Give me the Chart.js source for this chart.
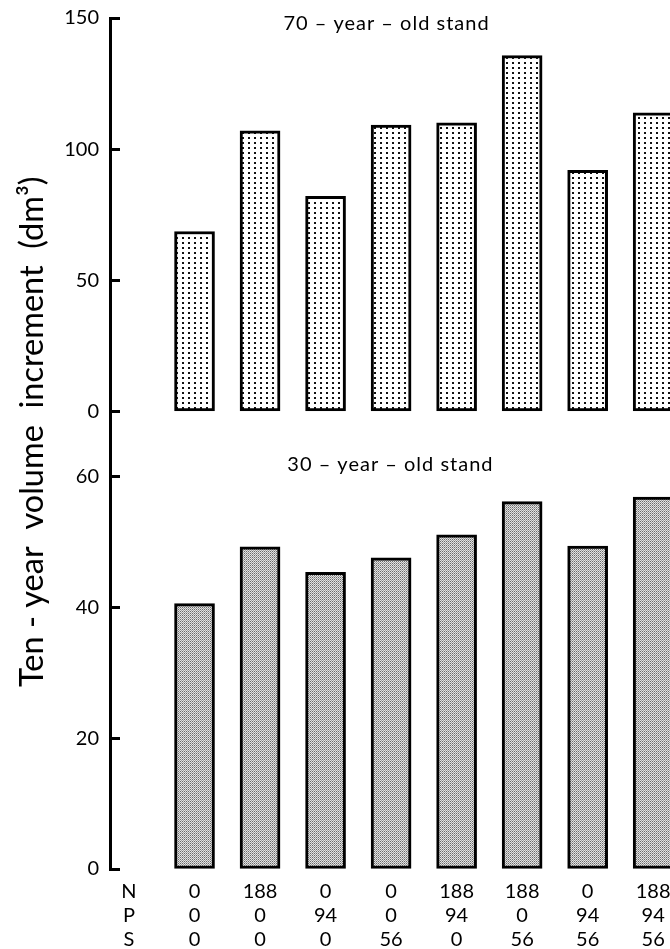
<!DOCTYPE html>
<html>
<head>
<meta charset="utf-8">
<script src="https://cdn.jsdelivr.net/npm/chart.js@4.4.1/dist/chart.umd.min.js"></script>
<style>
  html, body { margin: 0; padding: 0; background: #fff; overflow: hidden; width: 670px; height: 949px; }
  #wrap { position: absolute; left: 0; top: -15px; width: 720px; height: 964px; }
  canvas { display: block; }
</style>
</head>
<body>
<div id="wrap"><canvas id="c" width="720" height="964"></canvas></div>
<script>
// ---- data ----
const treatments = [1, 2, 3, 4, 5, 6, 7, 8];
const nLabels = ['0', '188', '0', '0', '188', '188', '0', '188'];
const pLabels = ['0', '0', '94', '0', '94', '0', '94', '94'];
const sLabels = ['0', '0', '0', '56', '0', '56', '56', '56'];
const rowHeaders = ['N', 'P', 'S'];
const increment70 = [68.6, 107.0, 82.0, 109.2, 110.0, 135.7, 91.9, 113.8];
const increment30 = [40.6, 49.3, 45.4, 47.6, 51.1, 56.2, 49.4, 56.9];
const ticks70 = [0, 50, 100, 150];
const ticks30 = [0, 20, 40, 60];
const panelTitles = ['70 – year – old stand', '30 – year – old stand'];
const yTitle = 'Ten - year  volume  increment  (dm³)';

const FONT = 'Lato, "Noto Sans", sans-serif';

function makePattern(w, h, draw) {
  const c = document.createElement('canvas');
  c.width = w; c.height = h;
  const g = c.getContext('2d');
  draw(g);
  return document.getElementById('c').getContext('2d').createPattern(c, 'repeat');
}
const dotPattern = makePattern(6, 5, g => {
  g.fillStyle = '#ffffff'; g.fillRect(0, 0, 6, 5);
  g.fillStyle = '#111111'; g.fillRect(2, 2, 2, 2);
});
const greyPattern = makePattern(2, 2, g => {
  g.fillStyle = '#e2e2e2'; g.fillRect(0, 0, 2, 2);
  g.fillStyle = '#6a6a6a'; g.fillRect(0, 0, 1, 1);
  g.fillStyle = '#a0a0a0'; g.fillRect(1, 1, 1, 1);
});

const yAxisBase = (tickValues) => ({
  type: 'linear',
  position: 'left',
  stack: 'panels',
  min: 0,
  afterBuildTicks: s => { s.ticks = tickValues.map(v => ({ value: v })); },
  afterFit: s => { s.width = 110; },
  border: { display: true, color: '#000', width: 3 },
  grid: { display: true, drawOnChartArea: false, drawTicks: true, tickLength: -10, tickWidth: 3, tickColor: '#000' },
  ticks: { color: '#000', padding: 21, font: { family: FONT, size: 20 } }
});

const labelsPlugin = {
  id: 'labelsPlugin',
  afterDraw(chart) {
    const ctx = chart.ctx;
    const x = chart.scales.x;
    const top = chart.scales.yTop;
    ctx.save();
    ctx.fillStyle = '#000';
    ctx.textAlign = 'center';
    ctx.textBaseline = 'middle';
    ctx.font = '20px ' + FONT;
    ctx.letterSpacing = '1px';
    ctx.fillText(panelTitles[0], x.getPixelForValue(3.93), top.getPixelForValue(147.8));
    ctx.fillText(panelTitles[1], x.getPixelForValue(3.99), chart.scales.yBottom.getPixelForValue(61.8));
    // axis title, centred on the same point relative to the plot as in the figure
    ctx.translate(33, top.getPixelForValue(0) + 20.3);
    ctx.rotate(-Math.PI / 2);
    ctx.font = '32.5px ' + FONT;
    ctx.letterSpacing = '0px';
    ctx.fillText(yTitle, 0, 0);
    ctx.restore();
  }
};

new Chart(document.getElementById('c'), {
  type: 'bar',
  data: {
    datasets: [
      {
        label: '70-year-old stand',
        data: treatments.map((t, i) => ({ x: t, y: increment70[i] })),
        yAxisID: 'yTop',
        backgroundColor: dotPattern,
        borderColor: '#000',
        borderWidth: 3,
        borderSkipped: false
      },
      {
        label: '30-year-old stand',
        data: treatments.map((t, i) => ({ x: t, y: increment30[i] })),
        yAxisID: 'yBottom',
        backgroundColor: greyPattern,
        borderColor: '#000',
        borderWidth: 3,
        borderSkipped: false
      }
    ]
  },
  options: {
    responsive: false,
    devicePixelRatio: 1,
    animation: false,
    events: [],
    layout: { padding: { top: 4, left: 0, right: 0, bottom: 0 } },
    datasets: { bar: { grouped: false, barThickness: 40 } },
    plugins: { legend: { display: false }, tooltip: { enabled: false }, title: { display: false } },
    scales: {
      x: {
        type: 'linear',
        min: -0.29,
        max: 9.02,
        offset: false,
        afterBuildTicks: s => { s.ticks = [0].concat(treatments).map(v => ({ value: v })); },
        afterFit: s => { s.height = 80; },
        grid: { display: false, drawTicks: false, tickLength: 0 },
        border: { display: false },
        ticks: {
          autoSkip: false,
          maxRotation: 0,
          padding: 11,
          color: '#000',
          font: { family: FONT, size: 20, lineHeight: '24px' },
          callback: (v) => {
            if (v === 0) return rowHeaders;
            const i = treatments.indexOf(v);
            return i >= 0 ? [nLabels[i], pLabels[i], sLabels[i]] : '';
          }
        }
      },
      yBottom: Object.assign(yAxisBase(ticks30), { max: 70, stackWeight: 457.6 }),
      yTop: Object.assign(yAxisBase(ticks70), { max: 150, stackWeight: 393.4 })
    }
  },
  plugins: [labelsPlugin]
});
</script>
</body>
</html>
